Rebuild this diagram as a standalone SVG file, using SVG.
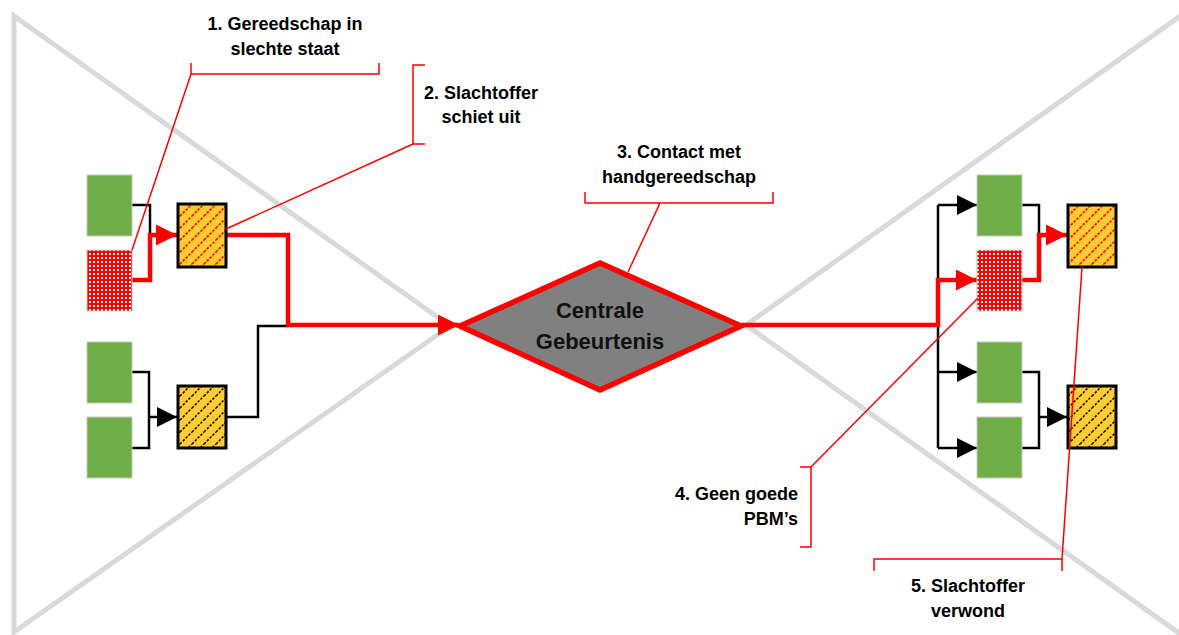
<svg xmlns="http://www.w3.org/2000/svg" width="1179" height="635" viewBox="0 0 1179 635">
<style>
.bg{fill:none;stroke:#d9d9d9;stroke-width:5;stroke-linejoin:miter}
.green{fill:#70ad47;stroke:#c8c8c8;stroke-width:1}
.dots{fill:url(#dotPat);stroke:#c8c8c8;stroke-width:1}
.hatchR{fill:url(#hatchRed);stroke:#000;stroke-width:3}
.hatchK{fill:url(#hatchBlack);stroke:#000;stroke-width:3}
.cb{fill:none;stroke:#000;stroke-width:2.5}
.cr{fill:none;stroke:#ff0000;stroke-width:4.5}
.lead{fill:none;stroke:#ff0000;stroke-width:1.5}
.lbl{font-family:"Liberation Sans",Arial,sans-serif;font-weight:bold;font-size:18px;fill:#000}
.ctr{font-family:"Liberation Sans",Arial,sans-serif;font-weight:bold;font-size:22px;fill:#111;text-anchor:middle}
</style>
<defs>
<pattern id="dotPat" patternUnits="userSpaceOnUse" width="4" height="4">
<rect width="4" height="4" fill="#ff0000"/>
<rect x="1" y="1" width="2" height="2" fill="#ffffff" shape-rendering="crispEdges"/>
</pattern>
<pattern id="hatchRed" patternUnits="userSpaceOnUse" width="12" height="12">
<rect width="12" height="12" fill="#ffcc33"/>
<path d="M-3,3 L3,-3 M0,12 L12,0 M9,15 L15,9" stroke="#ff0000" stroke-width="1.6" stroke-dasharray="2.5,1.5"/>
</pattern>
<pattern id="hatchBlack" patternUnits="userSpaceOnUse" width="12" height="12">
<rect width="12" height="12" fill="#ffcc33"/>
<path d="M-3,3 L3,-3 M0,12 L12,0 M9,15 L15,9" stroke="#000000" stroke-width="1.5" stroke-dasharray="2.5,1.5"/>
</pattern>
<marker id="arrK" viewBox="0 0 20 20" refX="20" refY="10" markerWidth="20" markerHeight="20" markerUnits="userSpaceOnUse" orient="auto">
<path d="M0,0 L20,10 L0,20 z" fill="#000"/>
</marker>
<marker id="arrR" viewBox="0 0 20 20" refX="20" refY="10" markerWidth="21" markerHeight="21" markerUnits="userSpaceOnUse" orient="auto">
<path d="M0,0 L20,10 L0,20 z" fill="#ff0000"/>
</marker>
</defs>
<rect width="1179" height="635" fill="#ffffff"/>
<g id="background">
<path class="bg" d="M14,16 L450,326 L14,632 Z"/>
<path class="bg" d="M1190,9 L746,325"/>
<path class="bg" d="M746,325 L1190,641"/>
</g>
<g id="connectors">
<path class="cb" d="M132,205 H150 V235"/>
<path class="cr" d="M132,280 H150 V235 H177" marker-end="url(#arrR)"/>
<path class="cb" d="M132,372 H149 V448 H132"/>
<path class="cb" d="M149,417 H177" marker-end="url(#arrK)"/>
<path class="cb" d="M226,417 H258 V326 H288"/>
<path class="cr" d="M226,235 H288 V325 H459" marker-end="url(#arrR)"/>
<path class="cb" d="M938,205 V448"/>
<path class="cb" d="M938,205 H977" marker-end="url(#arrK)"/>
<path class="cb" d="M938,372 H977" marker-end="url(#arrK)"/>
<path class="cb" d="M938,448 H977" marker-end="url(#arrK)"/>
<path class="cr" d="M741,325 H938 V280 H977" marker-end="url(#arrR)"/>
<path class="cb" d="M1022,205 H1039 V235"/>
<path class="cr" d="M1022,280 H1039 V235 H1067" marker-end="url(#arrR)"/>
<path class="cb" d="M1022,372 H1039 V448 H1022"/>
<path class="cb" d="M1039,417 H1067" marker-end="url(#arrK)"/>
</g>
<g id="node-L1"><rect class="green" x="87" y="175" width="45" height="61"/></g>
<g id="node-L2"><rect class="dots" x="87" y="250" width="45" height="61"/></g>
<g id="node-L3"><rect class="green" x="87" y="342" width="45" height="61"/></g>
<g id="node-L4"><rect class="green" x="87" y="417" width="45" height="61"/></g>
<g id="node-LH1"><rect class="hatchR" x="178" y="204" width="48" height="63"/></g>
<g id="node-LH2"><rect class="hatchK" x="178" y="386" width="48" height="62"/></g>
<g id="node-center">
<polygon points="460,326 600,263 741,326 600,390" fill="#808080" stroke="#ff0000" stroke-width="5.5" stroke-linejoin="miter"/>
<text class="ctr" x="600" y="318">Centrale</text>
<text class="ctr" x="600" y="349">Gebeurtenis</text>
</g>
<g id="node-R1"><rect class="green" x="977" y="175" width="45" height="61"/></g>
<g id="node-R2"><rect class="dots" x="977" y="250" width="45" height="61"/></g>
<g id="node-R3"><rect class="green" x="977" y="342" width="45" height="61"/></g>
<g id="node-R4"><rect class="green" x="977" y="417" width="45" height="61"/></g>
<g id="node-RH1"><rect class="hatchR" x="1068" y="205" width="48" height="62"/></g>
<g id="node-RH2"><rect class="hatchK" x="1068" y="386" width="48" height="62"/></g>
<g id="callout-1">
<path class="lead" d="M191,63 V74 H379 V63"/>
<path class="lead" d="M191,74 L132,250"/>
<text class="lbl" x="285" y="30" text-anchor="middle">1. Gereedschap in</text>
<text class="lbl" x="285" y="55" text-anchor="middle">slechte staat</text>
</g>
<g id="callout-2">
<path class="lead" d="M425,65 H413 V144 H425"/>
<path class="lead" d="M413,144 L226,229"/>
<text class="lbl" x="481" y="99" text-anchor="middle">2. Slachtoffer</text>
<text class="lbl" x="481" y="123" text-anchor="middle">schiet uit</text>
</g>
<g id="callout-3">
<path class="lead" d="M585,192 V203 H773 V192"/>
<path class="lead" d="M660,203 L628,272"/>
<text class="lbl" x="679" y="158" text-anchor="middle">3. Contact met</text>
<text class="lbl" x="679" y="183" text-anchor="middle">handgereedschap</text>
</g>
<g id="callout-4">
<path class="lead" d="M800,467 H811 V547 H800"/>
<path class="lead" d="M811,467 L978,298"/>
<text class="lbl" x="798" y="500" text-anchor="end">4. Geen goede</text>
<text class="lbl" x="798" y="525" text-anchor="end">PBM’s</text>
</g>
<g id="callout-5">
<path class="lead" d="M874,571 V559 H1062 V571"/>
<path class="lead" d="M1062,559 L1082,267"/>
<text class="lbl" x="968" y="592" text-anchor="middle">5. Slachtoffer</text>
<text class="lbl" x="968" y="617" text-anchor="middle">verwond</text>
</g>
</svg>
